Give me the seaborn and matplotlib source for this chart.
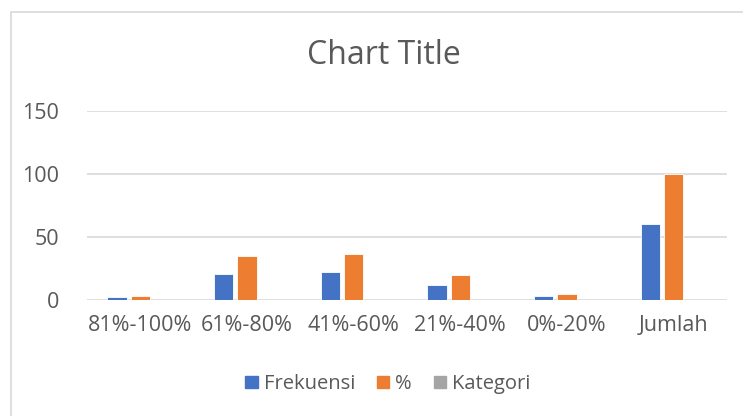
import numpy as np
import matplotlib.pyplot as plt
import seaborn as sns
import pandas as pd
from matplotlib.patches import Rectangle

# data
kategori = ['81%-100%', '61%-80%', '41%-60%', '21%-40%', '0%-20%', 'Jumlah']
frekuensi = [2, 21, 22, 12, 3, 60]
persen = [3.33, 35, 36.67, 20, 5, 100]
kat_series = [0, 0, 0, 0, 0, 0]
seri = ['Frekuensi', '%', 'Kategori']
warna = ['#4472C4', '#ED7D31', '#A5A5A5']

df = pd.DataFrame({
    'kategori': kategori * 3,
    'nilai': frekuensi + persen + kat_series,
    'seri': [seri[0]] * 6 + [seri[1]] * 6 + [seri[2]] * 6,
})

sns.set_style('white')
plt.rcParams['font.family'] = ['Open Sans', 'DejaVu Sans']
txt = '#595959'

fig = plt.figure(figsize=(7.43, 4.16), dpi=100)
ax = fig.add_axes([87 / 743, 1 - 300 / 416, 640 / 743, 189 / 416])

sns.barplot(data=df, x='kategori', y='nilai', hue='seri', palette=warna,
            saturation=1, width=0.655, gap=0.18, ax=ax, legend=False,
            edgecolor='white', linewidth=0.6)

ax.set_ylim(0, 150)
ax.set_yticks([0, 50, 100, 150])
ax.yaxis.grid(True, color='#D9D9D9', linewidth=1.2)
ax.set_axisbelow(True)
for s in ax.spines.values():
    s.set_visible(False)
ax.set_xlabel('')
ax.set_ylabel('')
ax.tick_params(axis='both', length=0, labelsize=15.5, colors=txt)
ax.tick_params(axis='y', pad=20)
ax.tick_params(axis='x', pad=11)

fig.text(384 / 743, 1 - 56 / 416, 'Chart Title', ha='center', va='center',
         fontsize=23, color=txt)

handles = [Rectangle((0, 0), 1, 1, color=c) for c in warna]
fig.legend(handles, seri, loc='center', bbox_to_anchor=(388 / 743, 1 - 384 / 416),
           ncol=3, frameon=False, fontsize=14.5, labelcolor=txt,
           handlelength=0.6, handleheight=0.6, handletextpad=0.3, columnspacing=1.1)

# chart border
fig.patches.append(Rectangle((11 / 743, -0.1), 2, 1 - 12 / 416 + 0.1,
                             transform=fig.transFigure, fill=False,
                             edgecolor='#D9D9D9', linewidth=1.2))

fig.savefig('out.png', dpi=100)
